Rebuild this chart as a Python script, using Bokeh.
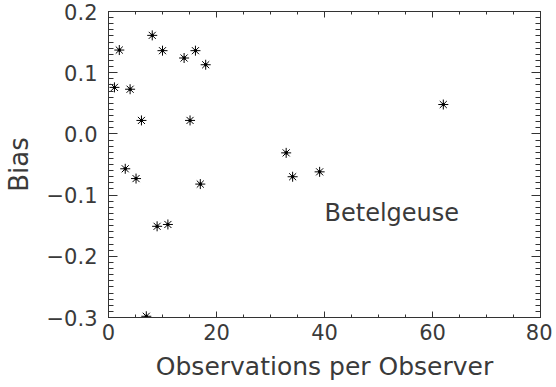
from bokeh.plotting import figure
from bokeh.models import LinearAxis, FixedTicker, CustomJSTickFormatter, Label, Range1d
from bokeh.embed import file_html
from bokeh.resources import INLINE

# Data
obs_per_observer = [1.1, 2.0, 3.1, 4.0, 5.1, 6.1, 7.0, 8.1, 9.0, 10.0, 11.0, 14.0, 15.1,
                    16.1, 17.0, 18.0, 32.9, 34.1, 39.1, 62.0]
bias = [0.076, 0.137, -0.057, 0.073, -0.073, 0.022, -0.298, 0.161, -0.151, 0.136, -0.148,
        0.124, 0.022, 0.136, -0.082, 0.113, -0.031, -0.070, -0.062, 0.048]

x_ticks = [0, 20, 40, 60, 80]
x_minor = [v for v in range(0, 81, 5)]
y_ticks = [-0.3, -0.2, -0.1, 0.0, 0.1, 0.2]
y_minor = [round(-0.3 + 0.01 * i, 2) for i in range(51)]

FONT = "DejaVu Sans"
TXT = "#3a3a3a"

p = figure(width=552, height=387, output_backend="svg", toolbar_location=None,
           x_range=Range1d(0, 80), y_range=Range1d(-0.3, 0.2),
           min_border_left=105, min_border_right=12, min_border_top=11, min_border_bottom=70)
p.grid.visible = False
p.outline_line_color = "#333333"
p.background_fill_color = "white"
p.border_fill_color = "white"

p.scatter(obs_per_observer, bias, marker="asterisk", size=10, line_color="black", line_width=1)
p.scatter(obs_per_observer, bias, marker="circle", size=2.5, fill_color="black", line_color="black")

xt = FixedTicker(ticks=x_ticks, minor_ticks=x_minor)
yt = FixedTicker(ticks=y_ticks, minor_ticks=y_minor)
yfmt = CustomJSTickFormatter(code="return tick.toFixed(1).replace('-', '\\u2212');")
xfmt = CustomJSTickFormatter(code="return tick.toFixed(0);")

def style(ax, ticker, fmt, major_len, minor_len, labels=True):
    ax.ticker = ticker
    ax.formatter = fmt
    ax.major_tick_in = major_len
    ax.major_tick_out = 0
    ax.minor_tick_in = minor_len
    ax.minor_tick_out = 0
    ax.axis_line_color = "#333333"
    ax.major_tick_line_color = "#333333"
    ax.minor_tick_line_color = "#333333"
    ax.major_label_text_font = FONT
    ax.major_label_text_font_size = "21px"
    ax.major_label_text_color = TXT
    ax.axis_label_text_font = FONT
    ax.axis_label_text_font_style = "normal"
    ax.axis_label_text_color = TXT
    if not labels:
        ax.major_label_text_font_size = "0px"
        ax.major_label_text_alpha = 0

style(p.xaxis[0], xt, xfmt, 6, 3)
style(p.yaxis[0], yt, yfmt, 9, 5)
p.xaxis[0].axis_label = "Observations per Observer"
p.xaxis[0].axis_label_text_font_size = "25px"
p.xaxis[0].major_label_standoff = 6
p.xaxis[0].axis_label_standoff = 9
p.yaxis[0].axis_label = "Bias"
p.yaxis[0].axis_label_text_font_size = "26px"
p.yaxis[0].major_label_standoff = 11
p.yaxis[0].axis_label_standoff = 10

top = LinearAxis()
style(top, FixedTicker(ticks=x_ticks, minor_ticks=x_minor), xfmt, 6, 3, labels=False)
p.add_layout(top, "above")
right = LinearAxis()
style(right, FixedTicker(ticks=y_ticks, minor_ticks=y_minor), yfmt, 9, 5, labels=False)
p.add_layout(right, "right")

p.add_layout(Label(x=40, y=-0.152, text="Betelgeuse", text_font=FONT,
                   text_font_size="24px", text_color=TXT))

open("out.html", "w").write(file_html(p, INLINE))
